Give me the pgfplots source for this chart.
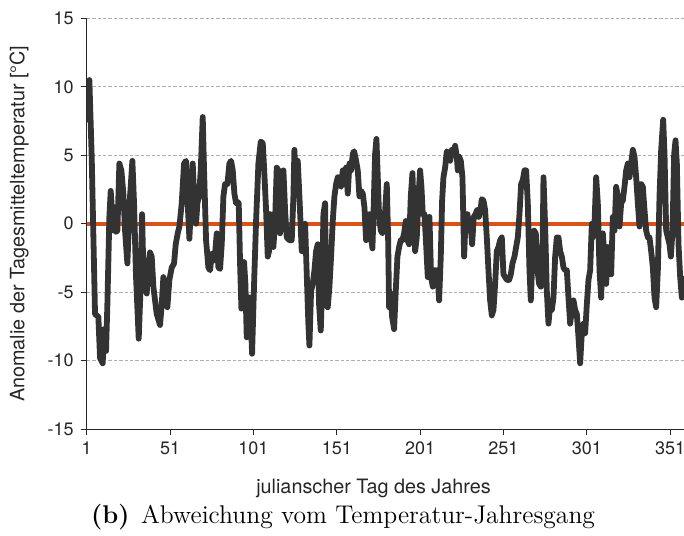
\documentclass[border=0pt]{standalone}
\usepackage{fontspec}
\usepackage{pgfplots}
\pgfplotsset{compat=1.18}
\newfontfamily\helv{TeX Gyre Heros}
\definecolor{anomline}{RGB}{51,51,51}
\definecolor{zeroline}{RGB}{217,83,25}
\definecolor{axgray}{RGB}{38,38,38}
\definecolor{gridgray}{RGB}{175,175,175}
\begin{document}
\begin{tikzpicture}
\useasboundingbox (-43.35pt,-53pt) rectangle (298.65pt,214.5pt);
\begin{axis}[
  at={(0,0)}, anchor=south west,
  scale only axis,
  width=298.65pt, height=205.25pt,
  xmin=1, xmax=359.3, ymin=-15, ymax=15,
  axis x line*=bottom, axis y line*=left,
  axis line style={axgray, line width=0.5pt, -},
  tick align=outside, major tick length=3pt,
  tick style={axgray, line width=0.5pt},
  xtick={1,51,101,151,201,251,301,351},
  xticklabels={1,51,101,151,201,251,301,351},
  ytick={-15,-10,-5,0,5,10,15},
  yticklabels={-15,-10,-5,0,5,10,15},
  ticklabel style={font=\helv\fontsize{9}{10}\selectfont, text=axgray},
  ymajorgrids,
  grid style={gridgray, line width=0.45pt, dash pattern=on 1.7pt off 1pt},
  clip=true,
]
% zero reference line
\addplot[zeroline, line width=2.2pt] coordinates {(1,0) (366,0)};
% daily anomaly of the mean temperature
\addplot[anomline, line width=2.9pt, line join=round, line cap=round] coordinates {
(1,7.6) (2.6,10.5) (4,4.9) (6,-6.6) (8,-6.8) (9,-9.8) (10.6,-10.2) (11.4,-7.7) (12.6,-9.3) (13.4,-5.9)
(14.6,0.5) (15.4,2.4) (17,-0.5) (17.8,1.2) (18.6,-0.6) (19.4,-0.5) (20.6,4.4) (21.8,3.9) (23,2.2) (24,-0.5)
(25.4,-2.9) (27,2.0) (28.4,4.6) (29.4,1.5) (30.6,-3.9) (32.2,-8.4) (33.4,-4.4) (34.2,0.7) (35,-3.4) (36.2,-4.6)
(37,-5.1) (38,-2.9) (39,-2.1) (40,-2.4) (41,-4.6) (43,-6.6) (45,-7.4) (46,-5.9) (47,-3.9) (48,-5.1)
(49.4,-6.1) (50.6,-4.1) (52,-3.2) (53.4,-2.9) (54.4,-1.5) (55.6,-0.7) (56.6,-0.2)
(58,1.5) (59.4,4.4) (60.6,4.6) (61.4,2.0) (62.6,-1.1) (63.6,1.5) (64.6,4.4) (65.6,1.5) (66.6,0) (67.4,1.5)
(68.4,2.0) (69.4,3.9) (70.6,7.8) (71.4,3.9) (72.6,-1.2) (74,-3.2) (75,-3.4) (76,-2.2) (77,-2.7) (78,-2.2)
(79,-0.7) (80,-3.2) (81,-3.3) (82,-1.5) (83,2.0) (84,2.9) (85.4,2.9) (86.6,4.4) (87.6,4.6) (88.6,3.9)
(89.6,2.2) (90.6,1.5) (91.4,1.6) (92.2,1.5) (93,-2.9) (93.8,-6.2) (94.6,-5.9) (95.4,-2.8) (96.2,-4.4) (97,-8.3)
(98,-5.4) (99,-5.4) (100.2,-9.5) (101.4,-4.4) (102.6,0.2) (104,4.4) (105.4,6.0) (106.6,5.9) (107.4,4.1) (108.6,1.0)
(109.6,-2.4) (110.4,-2.0) (111,0.7) (112,0.5) (113,-1.7) (114,0.2) (115,4.1) (116,3.9) (117,-0.7)
(118,3.4) (119,3.9) (120,1.0) (121,-1.0) (122.6,-1.2) (124,-1.2) (125,2.0) (125.6,5.4) (126.6,2.2) (127.6,4.6)
(128.6,2.0) (130,-2.0) (131,-2.0) (132,0) (133,-3.7) (134,-7.4) (134.6,-8.9) (135.6,-4.9) (136.6,-4.4) (137.6,-3.4)
(138.6,-2.0) (139.6,-1.5) (140.4,-5.9) (141.4,-7.8) (142.2,-4.6) (143,0.7) (144,1.5) (144.6,-5.9) (145.6,-6.1) (146.6,-4.6)
(147.6,-2.4) (148.6,0.2) (149.6,2.0) (150.6,2.9) (151.6,3.4) (152.6,2.9) (153.6,2.7) (154.6,3.9) (155.6,3.4) (156.6,4.1)
(157.6,2.2) (158.6,4.4) (159.6,3.9) (160.6,5.1) (161.4,5.3) (162.6,4.6) (163.6,3.9) (164.6,2.0) (165.6,2.4) (166.6,2.2)
(167.6,1.2) (168.6,-1.2) (169.6,-0.5) (170.6,0.7) (171.6,-1.0) (172.4,-1.8) (173.2,1.5) (174,5.1) (174.8,6.2) (175.6,3.4)
(176.4,0.5) (177.4,-0.5) (178.4,-0.7)
(179.8,0.5) (181,2.9) (181.8,-1.0) (182.4,-6.1) (183.4,-5.1) (184.2,-6.8) (185.4,-7.7) (186.4,-4.9) (187.4,-2.4) (188.4,-1.7)
(189.4,-1.2) (190.4,-1.2) (191.4,-0.7) (192.4,0.2) (193.4,-1.2) (194.4,-1.5) (195.4,2.0) (196.4,3.7) (197,1.5) (198,-2.0)
(199,-1.0) (200,2.0) (201,3.9) (201.8,2.7) (202.6,0.7) (203.6,0.7) (204.6,-1.5) (205.6,-3.9) (206.6,0.5) (207.6,-3.9)
(208.6,-4.6) (209.6,-3.4) (210.6,-3.4) (211.6,-3.9) (212.4,-5.6) (213.4,-2.4) (214.2,1.7) (215,3.4) (216,4.1) (217,5.3)
(218,5.1) (219,4.6) (220,5.4) (221,5.1) (222,5.7) (223,4.9) (223.6,3.9) (224.4,4.9) (225.4,4.6) (226.4,3.4)
(227.4,-2.4) (228.4,0.7) (229.4,0.7) (230.4,-0.5) (231.4,-0.2) (232.2,-1.5) (233.2,0.5) (234.2,0.7) (235.2,1.0) (236.2,0.5)
(237.2,1.0)
(238,1.8) (239,1.7) (240,1.0) (241,-1.0) (242,-3.4) (243,-5.6) (244,-6.7) (245,-6.3) (246,-4.4) (247,-2.0)
(248,-1.7) (249,-1.2) (250,-1.0) (251,-3.7) (252,-3.9) (253,-4.1) (254.4,-4.1) (255.4,-3.7) (256.4,-2.9) (257.6,-2.4)
(258.6,-1.7) (259.6,-1.0) (260.6,0.7) (261.6,2.9) (262.6,3.2) (263.6,3.9) (264.6,3.9) (265.6,1.5) (266.6,-3.4) (267.4,-5.6)
(268.4,-2.4) (269.4,-0.5) (270.4,-0.7) (271.4,-3.4) (272.4,-4.4) (273.4,-4.6) (274.4,-2.4) (275,3.4) (276,-0.2) (277,-4.9)
(278,-7.3) (279,-5.9) (280,-6.3) (281,-5.4) (282,-2.4) (283,-1.0) (284,-1.0) (285,-2.0) (286,-2.4) (287,-3.2)
(288,-3.4) (289,-3.4) (290,-5.4) (291,-7.3) (292,-6.3) (293,-5.6) (294,-6.3) (295,-6.6) (296,-8.3) (297,-10.2)
(298,-8.0) (299,-7.3) (300,-8.0) (301,-5.9) (302,-4.1) (303,-3.4) (304,0) (304.6,-1.0) (305.6,0) (306.6,3.4)
(307.6,1.5) (308.6,-3.4) (309.6,-5.4) (310.6,-0.7) (311.6,-2.4) (312.6,-4.4) (313.6,-1.7) (314.6,-3.4) (315.6,-3.7) (316.6,0.5)
(317.6,-0.5) (318.6,2.7) (319.6,2.0) (320.6,-0.2) (321.6,1.5) (322.6,1.7) (323.6,2.7) (324.6,3.9) (325.6,4.4) (326.6,3.4)
(327.6,4.4) (328.6,5.4) (329.6,4.9) (330.6,3.4) (331.6,1.5) (332.6,-0.2) (333.6,2.9) (334.6,2.7) (335.6,1.0) (336.6,-0.5)
(337.6,-1.0) (338.6,-1.0) (339.6,-2.0) (340.6,-3.2) (341.6,-5.4) (342.6,-6.1) (343.6,-3.4) (344.6,2.0) (345.6,5.4) (346.8,7.6)
(347.6,5.1) (348.6,-0.5) (349.6,-1.0) (350.6,-1.5) (351.4,-2.4) (352.4,-0.5) (353.4,5.1) (354.2,6.1) (355,4.4) (356,-1.5)
(357,-3.9) (358,-5.4) (359,-4.6) (360,-4.0)
};
\end{axis}
% axis titles and caption
\node[font=\helv\fontsize{9.9}{11}\selectfont, text=axgray, rotate=90] at (-33.8pt,102.6pt) {Anomalie der Tagesmitteltemperatur [°C]};
\node[font=\helv\fontsize{9.9}{11}\selectfont, text=axgray] at (143.4pt,-29.5pt) {julianscher Tag des Jahres};
\node[font=\fontsize{12.8}{15}\selectfont] at (128.2pt,-44pt) {\textbf{(b)}\hspace{0.45em}Abweichung vom Temperatur-Jahresgang};
\end{tikzpicture}
\end{document}
